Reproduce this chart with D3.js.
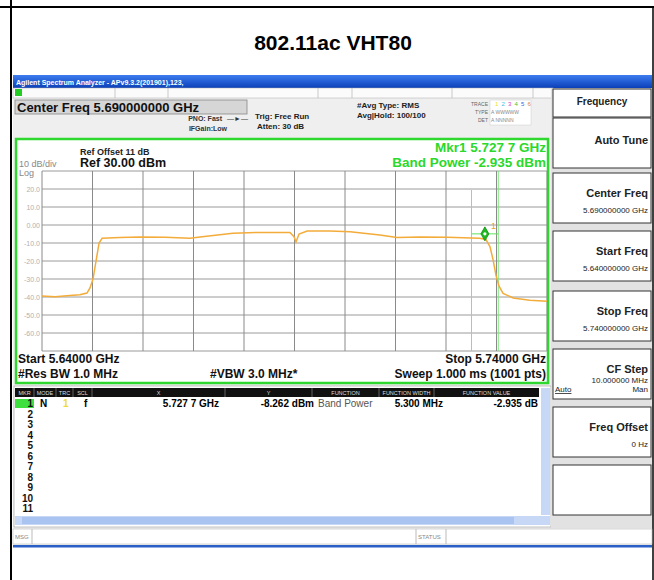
<!DOCTYPE html>
<html>
<head>
<meta charset="utf-8">
<title>802.11ac VHT80</title>
<script src="https://d3js.org/d3.v7.min.js"></script>
<style>
  body { margin: 0; background: #fff; }
  svg text { font-family: Arial, "Liberation Sans", sans-serif; }
</style>
</head>
<body>
<script>

// trace: frequency (GHz) and level (dBm)
var traceFreq  = [5.6400, 5.6426, 5.6455, 5.6475, 5.6489, 5.6495, 5.6501, 5.6507, 5.6513, 5.6519,
                  5.6554, 5.6594, 5.6644, 5.6693, 5.6713, 5.6778, 5.6832, 5.6891, 5.6899, 5.6903,
                  5.6909, 5.6925, 5.6970, 5.7010, 5.7069, 5.7103, 5.7149, 5.7202, 5.7267, 5.7279,
                  5.7287, 5.7293, 5.7299, 5.7305, 5.7313, 5.7333, 5.7366, 5.7400];
var traceLevel = [-39.5, -39.8, -39.2, -38.8, -37.8, -35.0, -30.0, -20.0, -10.0, -7.4,
                  -7.0, -6.7, -6.8, -7.3, -6.7, -4.6, -4.1, -4.2, -6.5, -9.4,
                  -5.0, -3.4, -3.4, -3.8, -5.6, -7.0, -6.6, -6.8, -7.4, -8.0,
                  -12.0, -19.0, -28.0, -34.0, -38.0, -40.5, -41.8, -42.3];

var startFreq = 5.64, stopFreq = 5.74;
var refLevel = 30, dbPerDiv = 10, divisions = 10;
var yTickLabels = ["", "20.0", "10.0", "0.00", "-10.0", "-20.0", "-30.0", "-40.0", "-50.0", "-60.0", ""];

var markerFreq = 5.7277, markerLevel = -8.262;
var bandWidthMHz = 5.3;

var keyTitles = ["Auto Tune", "Center Freq", "Start Freq", "Stop Freq", "CF Step", "Freq Offset", ""];
var keyValues = ["", "5.690000000 GHz", "5.640000000 GHz", "5.740000000 GHz", "10.000000 MHz", "0 Hz", ""];

var tableCols = ["MKR", "MODE", "TRC", "SCL", "X", "Y", "FUNCTION", "FUNCTION WIDTH", "FUNCTION VALUE"];
var row1 = ["1", "N", "1", "f", "5.727 7 GHz", "-8.262 dBm", "Band Power", "5.300 MHz", "-2.935 dB"];
var rowNums = ["1","2","3","4","5","6","7","8","9","10","11"];

var width = 654, height = 580;
var svg = d3.select("body").append("svg").attr("width", width).attr("height", height);

var defs = svg.append("defs");
var grad = defs.append("linearGradient").attr("id", "bar").attr("x1", 0).attr("x2", 0).attr("y1", 0).attr("y2", 1);
grad.append("stop").attr("offset", "0%").attr("stop-color", "#3d7df0");
grad.append("stop").attr("offset", "100%").attr("stop-color", "#0b3fb8");

// table cell borders
svg.append("line").attr("x1", 0).attr("x2", width).attr("y1", 7).attr("y2", 7).attr("stroke", "#000").attr("stroke-width", 2);
svg.append("line").attr("x1", 11).attr("x2", 11).attr("y1", 0).attr("y2", height).attr("stroke", "#000").attr("stroke-width", 2);
svg.append("line").attr("x1", 653).attr("x2", 653).attr("y1", 7).attr("y2", height).attr("stroke", "#000").attr("stroke-width", 1.5);

svg.append("text").attr("x", 333).attr("y", 50).attr("text-anchor", "middle")
  .attr("font-size", 21).attr("font-weight", "bold").text("802.11ac VHT80");

// ---- analyzer screenshot ----
var scr = svg.append("g");
scr.append("rect").attr("x", 13).attr("y", 75).attr("width", 639).attr("height", 472).attr("fill", "#efefef");
scr.append("rect").attr("x", 13).attr("y", 75).attr("width", 639).attr("height", 13).attr("fill", "url(#bar)");
scr.append("text").attr("x", 16).attr("y", 84.5).attr("font-size", 7).attr("font-weight", "bold")
  .attr("fill", "#fff").text("Agilent Spectrum Analyzer - APv9.3.2(201901),123,");

// status row
scr.append("rect").attr("x", 13).attr("y", 88).attr("width", 540).attr("height", 10).attr("fill", "#fbfbfb").attr("stroke", "#aaa").attr("stroke-width", 0.5);
scr.append("rect").attr("x", 15).attr("y", 89).attr("width", 7).attr("height", 7).attr("fill", "#22cc22");
var status = [[40, "L"], [87, "RF"], [119, "50 \u03a9"], [150, "AC"], [283, "SENSE:INT"], [323, "SOURCE OFF"], [398, "ALIGN AUTO"], [455, "05:06:56 PM Oct 21, 2019"]];
scr.selectAll(".st").data(status).enter().append("text")
  .attr("x", function(d){ return d[0]; }).attr("y", 95.5)
  .attr("font-size", 6).attr("fill", function(d, i){ return i == 7 ? "#222" : "#888"; })
  .text(function(d){ return d[1]; });
[115, 168, 318, 352, 452, 533].forEach(function(x){
  scr.append("line").attr("x1", x).attr("x2", x).attr("y1", 88).attr("y2", 98).attr("stroke", "#aaa").attr("stroke-width", 0.6);
});

// header settings
scr.append("rect").attr("x", 15).attr("y", 100).attr("width", 232).attr("height", 14).attr("fill", "#d6d6d6").attr("stroke", "#888").attr("stroke-width", 0.8);
scr.append("text").attr("x", 17).attr("y", 111.5).attr("font-size", 13).attr("font-weight", "bold").attr("fill", "#111").text("Center Freq 5.690000000 GHz");
scr.append("text").attr("x", 222).attr("y", 121).attr("text-anchor", "end").attr("font-size", 7).attr("font-weight", "bold").attr("fill", "#333").text("PNO: Fast");
scr.append("text").attr("x", 227).attr("y", 120.5).attr("font-size", 7).attr("fill", "#333").text("\u2014\u25ba\u2014");
scr.append("text").attr("x", 227).attr("y", 131).attr("text-anchor", "end").attr("font-size", 7).attr("font-weight", "bold").attr("fill", "#333").text("IFGain:Low");
scr.append("text").attr("x", 255).attr("y", 119).attr("font-size", 8).attr("font-weight", "bold").attr("fill", "#222").text("Trig: Free Run");
scr.append("text").attr("x", 257).attr("y", 129).attr("font-size", 8).attr("font-weight", "bold").attr("fill", "#222").text("Atten: 30 dB");
scr.append("text").attr("x", 357).attr("y", 108).attr("font-size", 8).attr("font-weight", "bold").attr("fill", "#222").text("#Avg Type: RMS");
scr.append("text").attr("x", 357).attr("y", 118).attr("font-size", 8).attr("font-weight", "bold").attr("fill", "#222").text("Avg|Hold: 100/100");
scr.append("text").attr("x", 488).attr("y", 106).attr("text-anchor", "end").attr("font-size", 5).attr("fill", "#666").text("TRACE");
scr.append("text").attr("x", 488).attr("y", 114).attr("text-anchor", "end").attr("font-size", 5).attr("fill", "#666").text("TYPE");
scr.append("text").attr("x", 488).attr("y", 122).attr("text-anchor", "end").attr("font-size", 5).attr("fill", "#666").text("DET");
scr.append("rect").attr("x", 490).attr("y", 100).attr("width", 41).attr("height", 25).attr("fill", "#fff").attr("stroke", "#ccc").attr("stroke-width", 0.5);
var trColors = ["#e8e030", "#40c0e0", "#d040d0", "#40c040", "#4060e0", "#e08030"];
trColors.forEach(function(c, i){
  scr.append("text").attr("x", 495 + i * 6.5).attr("y", 106).attr("font-size", 6).attr("fill", c).text(i + 1);
});
scr.append("text").attr("x", 491).attr("y", 114).attr("font-size", 5).attr("fill", "#888").text("A WWWWW");
scr.append("text").attr("x", 491).attr("y", 122).attr("font-size", 5).attr("fill", "#888").text("A NNNNN");

// ---- graph ----
scr.append("rect").attr("x", 16).attr("y", 139).attr("width", 532).attr("height", 244)
  .attr("fill", "#fff").attr("stroke", "#2fd82f").attr("stroke-width", 2.5);

var x = d3.scaleLinear().domain([startFreq, stopFreq]).range([42, 547]);
var y = d3.scaleLinear().domain([refLevel - dbPerDiv * divisions, refLevel]).range([351, 171]);

var xTicks = d3.range(divisions + 1).map(function(i){ return startFreq + i * (stopFreq - startFreq) / divisions; });
var yTicks = d3.range(divisions + 1).map(function(i){ return refLevel - i * dbPerDiv; });

var g = scr.append("g");
g.selectAll(".hg").data(yTicks).enter().append("line")
  .attr("x1", 42).attr("x2", 547)
  .attr("y1", function(d){ return y(d); }).attr("y2", function(d){ return y(d); })
  .attr("stroke", "#9a9a9a").attr("stroke-width", 1);
g.selectAll(".vg").data(xTicks).enter().append("line")
  .attr("y1", 171).attr("y2", 351)
  .attr("x1", function(d){ return x(d); }).attr("x2", function(d){ return x(d); })
  .attr("stroke", "#8a8a8a").attr("stroke-width", 1);

g.selectAll(".yl").data(yTicks).enter().append("text")
  .attr("x", 40).attr("y", function(d){ return y(d) + 2.5; })
  .attr("text-anchor", "end").attr("font-size", 7).attr("fill", "#b0b0b0")
  .text(function(d, i){ return yTickLabels[i]; });

scr.append("text").attr("x", 80).attr("y", 155).attr("font-size", 9).attr("font-weight", "bold").attr("fill", "#222").text("Ref Offset 11 dB");
scr.append("text").attr("x", 80).attr("y", 167).attr("font-size", 12.5).attr("font-weight", "bold").attr("fill", "#111").text("Ref 30.00 dBm");
scr.append("text").attr("x", 19).attr("y", 167).attr("font-size", 9).attr("fill", "#888").text("10 dB/div");
scr.append("text").attr("x", 19).attr("y", 176).attr("font-size", 9).attr("fill", "#888").text("Log");

scr.append("text").attr("x", 546).attr("y", 152).attr("text-anchor", "end").attr("font-size", 13.5).attr("font-weight", "bold").attr("fill", "#2bd82b").text("Mkr1 5.727 7 GHz");
scr.append("text").attr("x", 546).attr("y", 166.5).attr("text-anchor", "end").attr("font-size", 13.5).attr("font-weight", "bold").attr("fill", "#2bd82b").text("Band Power -2.935 dBm");

// band power limits
var bandLo = markerFreq - bandWidthMHz / 2000, bandHi = markerFreq + bandWidthMHz / 2000;
g.append("line").attr("x1", x(bandLo)).attr("x2", x(bandLo)).attr("y1", 190).attr("y2", 351).attr("stroke", "#7ee87e").attr("stroke-width", 1);
g.append("line").attr("x1", x(bandHi)).attr("x2", x(bandHi)).attr("y1", 171).attr("y2", 351).attr("stroke", "#7ee87e").attr("stroke-width", 1);

// trace
var pts = traceFreq.map(function(f, i){ return [f, traceLevel[i]]; });
var line = d3.line().x(function(d){ return x(d[0]); }).y(function(d){ return y(d[1]); });
g.append("path").attr("d", line(pts)).attr("fill", "none").attr("stroke", "#f3ac3a").attr("stroke-width", 1.5);

// marker
var mx = x(markerFreq), my = y(markerLevel) - 6;
g.append("line").attr("x1", x(bandLo)).attr("x2", x(bandHi)).attr("y1", my).attr("y2", my).attr("stroke", "#5ee05e").attr("stroke-width", 1);
g.append("path").attr("d", "M" + mx + "," + (my - 7) + "L" + (mx + 4) + "," + my + "L" + mx + "," + (my + 7) + "L" + (mx - 4) + "," + my + "Z")
  .attr("fill", "#20b820").attr("stroke", "#109010").attr("stroke-width", 0.8);
g.append("circle").attr("cx", mx).attr("cy", my).attr("r", 1.6).attr("fill", "#fff");
g.append("text").attr("x", mx + 6).attr("y", my - 5).attr("font-size", 9).attr("fill", "#f0a020").text("1");

// footer of graph
scr.append("text").attr("x", 18).attr("y", 363).attr("font-size", 12).attr("font-weight", "bold").attr("fill", "#111").text("Start 5.64000 GHz");
scr.append("text").attr("x", 546).attr("y", 363).attr("text-anchor", "end").attr("font-size", 12).attr("font-weight", "bold").attr("fill", "#111").text("Stop 5.74000 GHz");
scr.append("text").attr("x", 18).attr("y", 378).attr("font-size", 12).attr("font-weight", "bold").attr("fill", "#111").text("#Res BW 1.0 MHz");
scr.append("text").attr("x", 210).attr("y", 378).attr("font-size", 12).attr("font-weight", "bold").attr("fill", "#111").text("#VBW 3.0 MHz*");
scr.append("text").attr("x", 546).attr("y", 378).attr("text-anchor", "end").attr("font-size", 12).attr("font-weight", "bold").attr("fill", "#111").text("Sweep  1.000 ms (1001 pts)");

// ---- marker table ----
scr.append("rect").attr("x", 14).attr("y", 386).attr("width", 537).attr("height", 141).attr("fill", "#fff").attr("stroke", "#999").attr("stroke-width", 0.6);
var colEdges = [15, 34, 56, 73, 92, 225, 312, 379, 434, 539];
scr.append("rect").attr("x", 15).attr("y", 388).attr("width", 524).attr("height", 9).attr("fill", "#111");
tableCols.forEach(function(c, i){
  scr.append("text").attr("x", (colEdges[i] + colEdges[i + 1]) / 2).attr("y", 395)
    .attr("text-anchor", "middle").attr("font-size", 5.5).attr("fill", "#ddd").text(c);
  if (i > 0) scr.append("line").attr("x1", colEdges[i]).attr("x2", colEdges[i]).attr("y1", 388).attr("y2", 397).attr("stroke", "#777").attr("stroke-width", 0.8);
});
scr.append("rect").attr("x", 15).attr("y", 399).attr("width", 19).attr("height", 9).attr("fill", "#3ee03e");
var rowY = d3.scaleLinear().domain([0, 10]).range([407, 512]);
scr.selectAll(".rn").data(rowNums).enter().append("text")
  .attr("x", 33).attr("y", function(d, i){ return rowY(i); })
  .attr("text-anchor", "end").attr("font-size", 10).attr("font-weight", "bold").attr("fill", "#111")
  .text(function(d){ return d; });
scr.append("text").attr("x", 40).attr("y", 407).attr("font-size", 10).attr("font-weight", "bold").text(row1[1]);
scr.append("text").attr("x", 63).attr("y", 407).attr("font-size", 10).attr("font-weight", "bold").attr("fill", "#eedd30").text(row1[2]);
scr.append("text").attr("x", 84).attr("y", 407).attr("font-size", 10).attr("font-weight", "bold").text(row1[3]);
scr.append("text").attr("x", 219).attr("y", 407).attr("text-anchor", "end").attr("font-size", 10).attr("font-weight", "bold").text(row1[4]);
scr.append("text").attr("x", 314).attr("y", 407).attr("text-anchor", "end").attr("font-size", 10).attr("font-weight", "bold").text(row1[5]);
scr.append("text").attr("x", 318).attr("y", 407).attr("font-size", 10).attr("fill", "#555").text(row1[6]);
scr.append("text").attr("x", 443).attr("y", 407).attr("text-anchor", "end").attr("font-size", 10).attr("font-weight", "bold").text(row1[7]);
scr.append("text").attr("x", 538).attr("y", 407).attr("text-anchor", "end").attr("font-size", 10).attr("font-weight", "bold").text(row1[8]);

// scroll bars
scr.append("rect").attr("x", 541).attr("y", 388).attr("width", 9).attr("height", 127).attr("fill", "#c6d8f6");
scr.append("rect").attr("x", 15).attr("y", 516).attr("width", 535).attr("height", 9).attr("fill", "#c6d8f6");
scr.append("rect").attr("x", 22).attr("y", 517).attr("width", 492).attr("height", 7).attr("fill", "#a9c4f0");

// message row
scr.append("rect").attr("x", 13).attr("y", 529).attr("width", 639).attr("height", 15).attr("fill", "#fff").attr("stroke", "#bbb").attr("stroke-width", 0.6);
scr.append("line").attr("x1", 32).attr("x2", 32).attr("y1", 529).attr("y2", 544).attr("stroke", "#bbb");
scr.append("line").attr("x1", 416).attr("x2", 416).attr("y1", 529).attr("y2", 544).attr("stroke", "#bbb");
scr.append("line").attr("x1", 446).attr("x2", 446).attr("y1", 529).attr("y2", 544).attr("stroke", "#bbb");
scr.append("text").attr("x", 15).attr("y", 539).attr("font-size", 6).attr("fill", "#888").text("MSG");
scr.append("text").attr("x", 418).attr("y", 539).attr("font-size", 6).attr("fill", "#888").text("STATUS");
scr.append("rect").attr("x", 13).attr("y", 545).attr("width", 639).attr("height", 2.5).attr("fill", "#2a5fc8");

// ---- softkey panel ----
var panel = scr.append("g");
panel.append("rect").attr("x", 551).attr("y", 88).attr("width", 101).attr("height", 440).attr("fill", "#e2e2e2");
panel.append("rect").attr("x", 553).attr("y", 89).attr("width", 98).attr("height", 28).attr("fill", "#fff").attr("stroke", "#333").attr("stroke-width", 1);
panel.append("text").attr("x", 602).attr("y", 105).attr("text-anchor", "middle").attr("font-size", 10).attr("font-weight", "bold").attr("fill", "#222").text("Frequency");

var keyTop = [118, 173, 231, 291, 349, 407, 465];
var keyH = 50;
keyTitles.forEach(function(t, i){
  var k = panel.append("g");
  k.append("rect").attr("x", 553).attr("y", keyTop[i]).attr("width", 98).attr("height", keyH)
    .attr("fill", "#fff").attr("stroke", "#333").attr("stroke-width", 1);
  k.append("text").attr("x", 648).attr("y", keyTop[i] + (i == 0 ? 26 : 24)).attr("text-anchor", "end")
    .attr("font-size", 11).attr("font-weight", "bold").attr("fill", "#222").text(t);
  if (i == 4) {
    k.append("text").attr("x", 648).attr("y", keyTop[i] + 34).attr("text-anchor", "end").attr("font-size", 8).attr("fill", "#222").text(keyValues[i]);
    k.append("text").attr("x", 555).attr("y", keyTop[i] + 43).attr("font-size", 8).attr("fill", "#222").attr("text-decoration", "underline").text("Auto");
    k.append("text").attr("x", 648).attr("y", keyTop[i] + 43).attr("text-anchor", "end").attr("font-size", 8).attr("fill", "#222").text("Man");
  } else {
    k.append("text").attr("x", 648).attr("y", keyTop[i] + 40).attr("text-anchor", "end").attr("font-size", 8).attr("fill", "#222").text(keyValues[i]);
  }
});

</script>
</body>
</html>
